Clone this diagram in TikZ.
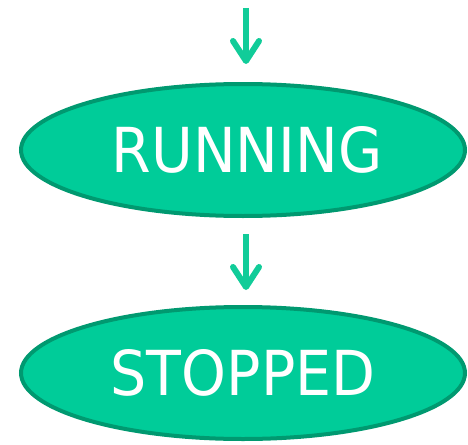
\documentclass[tikz,border=0pt]{standalone}
\usepackage{fontspec}
\setmainfont{DejaVu Sans}
\usetikzlibrary{arrows.meta,shapes.geometric}
\definecolor{stfill}{HTML}{00CC99}
\definecolor{stline}{HTML}{009970}
\definecolor{arrcol}{HTML}{11CC99}
\tikzset{
  state/.style={ellipse, draw=stline, fill=stfill, line width=4pt,
    minimum width=444pt, minimum height=132pt, inner sep=0pt,
    text=white, font=\fontsize{62}{70}\selectfont},
  arr/.style={draw=arrcol, line width=6pt,
    -{Straight Barb[length=20pt,width=26pt,round]}}
}
\begin{document}
\begin{tikzpicture}[x=1pt,y=-1pt]
\useasboundingbox (0,0) rectangle (468,444);
\node[state] (run) at (243,150) {\hspace*{8pt}\scalebox{0.92}[1]{RUNNING}};
\node[state] (stop) at (243,373) {\scalebox{0.92}[1]{STOPPED}};
\coordinate (start) at (246,8);
\coordinate (t1) at (246,64);
\coordinate (s2) at (246,234);
\coordinate (t2) at (246,290);
\draw[arr] (start) -- (t1);
\draw[arr] (s2) -- (t2);
\end{tikzpicture}
\end{document}
